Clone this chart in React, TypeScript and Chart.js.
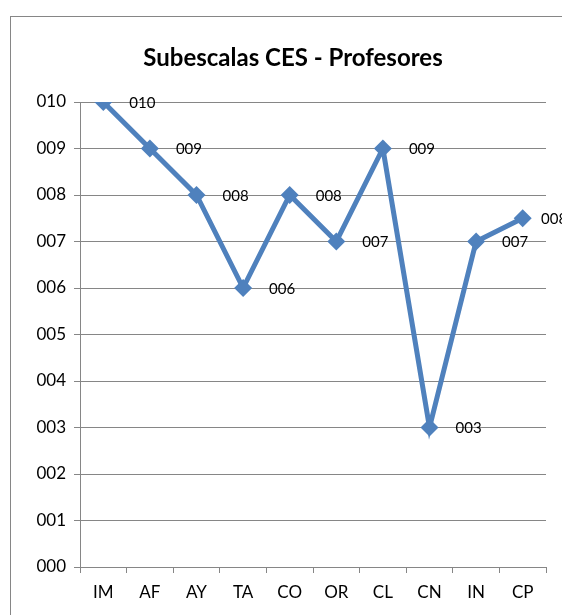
import React, { useEffect, useRef } from "react";
import { Chart, registerables } from "chart.js";

Chart.register(...registerables);

const categories = ["IM", "AF", "AY", "TA", "CO", "OR", "CL", "CN", "IN", "CP"];
const values = [10, 9, 8, 6, 8, 7, 9, 3, 7, 7.5];
const pointLabels = ["010", "009", "008", "006", "008", "007", "009", "003", "007", "008"];
const yTickLabels = ["000", "001", "002", "003", "004", "005", "006", "007", "008", "009", "010"];
const title = "Subescalas CES - Profesores";

const BLUE = "#4F81BD";
const GRAY = "#868686";
const FONT = "Lato, 'Open Sans', sans-serif";

const labelPlugin = {
  id: "pointLabels",
  afterDatasetsDraw(chart: any) {
    const ctx = chart.ctx;
    const meta = chart.getDatasetMeta(0);
    const maxX = chart.chartArea.right - 5;
    ctx.save();
    ctx.font = `15px ${FONT}`;
    ctx.fillStyle = "#000";
    ctx.textAlign = "left";
    ctx.textBaseline = "middle";
    meta.data.forEach((pt: any, i: number) => {
      ctx.fillText(pointLabels[i], Math.min(pt.x + 26, maxX), pt.y + 1);
    });
    ctx.restore();
  },
};

const titlePlugin = {
  id: "customTitle",
  afterDraw(chart: any) {
    const ctx = chart.ctx;
    ctx.save();
    ctx.font = `bold 24px ${FONT}`;
    ctx.fillStyle = "#000";
    ctx.textAlign = "center";
    ctx.textBaseline = "middle";
    ctx.fillText(title, 282, 41);
    ctx.restore();
  },
};

export default function App() {
  const ref = useRef<HTMLCanvasElement>(null);
  useEffect(() => {
    if (!ref.current) return;
    const chart = new Chart(ref.current, {
      type: "line",
      data: {
        labels: categories,
        datasets: [
          {
            data: values,
            borderColor: BLUE,
            backgroundColor: BLUE,
            borderWidth: 5,
            pointStyle: "rectRot",
            pointRadius: 9,
            pointBackgroundColor: BLUE,
            pointBorderColor: BLUE,
            pointBorderWidth: 0,
            tension: 0,
          },
        ],
      },
      options: {
        responsive: false,
        animation: false,
        layout: { padding: { left: 0, right: 16, top: 85, bottom: 0 } },
        plugins: {
          legend: { display: false },
          tooltip: { enabled: false },
          title: { display: false },
        },
        scales: {
          x: {
            type: "category",
            offset: true,
            grid: {
              offset: true,
              drawOnChartArea: false,
              drawTicks: true,
              tickLength: 6,
              color: GRAY,
            },
            border: { color: GRAY, width: 1 },
            ticks: {
              color: "#000",
              font: { family: FONT, size: 17 },
              padding: 9,
              maxRotation: 0,
              autoSkip: false,
            },
            afterFit: (s: any) => {
              s.height = 48;
            },
          },
          y: {
            min: 0,
            max: 10,
            grid: { color: GRAY, tickLength: 6 },
            border: { color: GRAY, width: 1 },
            ticks: {
              stepSize: 1,
              color: "#000",
              font: { family: FONT, size: 17 },
              padding: 8,
              callback: (v: any) => yTickLabels[Math.round(Number(v))] ?? "",
            },
            afterFit: (s: any) => {
              s.width = 69;
            },
          },
        },
      },
      plugins: [labelPlugin, titlePlugin],
    });
    return () => chart.destroy();
  }, []);

  return (
    <div
      style={{
        position: "absolute",
        left: 10,
        top: 16,
        width: 552,
        height: 599,
        boxSizing: "border-box",
        borderLeft: `1px solid ${GRAY}`,
        borderTop: `1px solid ${GRAY}`,
        overflow: "hidden",
        background: "#fff",
      }}
    >
      <canvas ref={ref} width={551} height={598} style={{ display: "block" }} />
    </div>
  );
}
